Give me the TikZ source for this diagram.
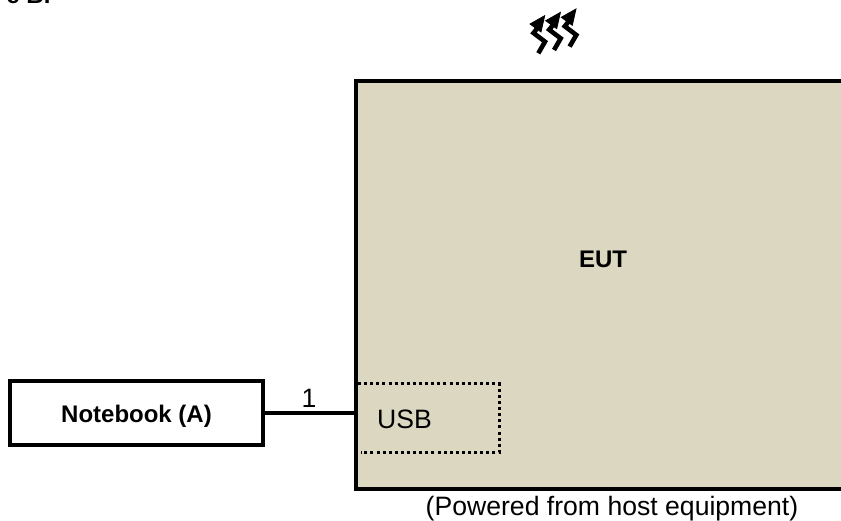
\documentclass[tikz,border=0pt]{standalone}
\usepackage{fontspec}
\setmainfont{Liberation Sans}
\definecolor{eutfill}{HTML}{DCD7C0}
\tikzset{
  px/.style={x=1bp,y=-1bp},
  box/.style={draw=black,line width=3.7bp,inner sep=0pt,outer sep=0pt,anchor=north west},
  label/.style={inner sep=0pt,outer sep=0pt,text=black},
  wire/.style={draw=black,line width=3.5bp},
  dotbox/.style={draw=black,line width=3bp,dash pattern=on 3bp off 3.1bp},
  bolt/.style={draw=black,line width=4.6bp},
  bolthead/.style={fill=black,draw=black,line width=0.8bp},
}
\newcommand{\lbl}[1]{\fontsize{#1bp}{#1bp}\selectfont}
\begin{document}
\begin{tikzpicture}[px]
\useasboundingbox (0,0) rectangle (841,521);
\clip (0,0) rectangle (841,521);
% clipped caption at the top left
\node[label,anchor=base east] (cap) at (50.5,4) {\lbl{24}\bfseries e B.};
% EUT box runs off the right edge
\node[box,fill=eutfill,minimum width=544bp,minimum height=408bp] (eut) at (356,81) {};
\node[label] (eutlabel) at (603,259) {\lbl{24}\bfseries EUT};
\node[box,minimum width=253bp,minimum height=64bp] (nb) at (10,381) {};
\node[label] (nblabel) at (136.5,416) {\lbl{24}\bfseries Notebook (A)};
\draw[wire] (nb.east) -- (nb.east -| eut.west);
\node[label] (one) at (309,398) {\lbl{26.6}1};
\coordinate (u1) at (358,383.7);
\coordinate (u2) at (499.3,383.7);
\coordinate (u3) at (499.3,452);
\coordinate (u4) at (361,452);
\draw[dotbox] (u1) -- (u2) -- (u3) -- (u4);
\node[label] (usb) at (404.5,419) {\lbl{26.6}USB};
\node[label] (pow) at (612,509) {\lbl{26.6}(Powered from host equipment)};
% radiated-field symbol
\foreach \dx/\dy in {0/0,15.7/-3.3,31.3/-6.7}{
  \begin{scope}[shift={(\dx,\dy)}]
    \fill[bolthead] (544.7,15.7) -- (530,24) -- (541,32) -- cycle;
    \draw[bolt] (538.3,27) -- (533.5,33) -- (545,41.7) -- (538.3,53.3);
  \end{scope}
}
\end{tikzpicture}
\end{document}
